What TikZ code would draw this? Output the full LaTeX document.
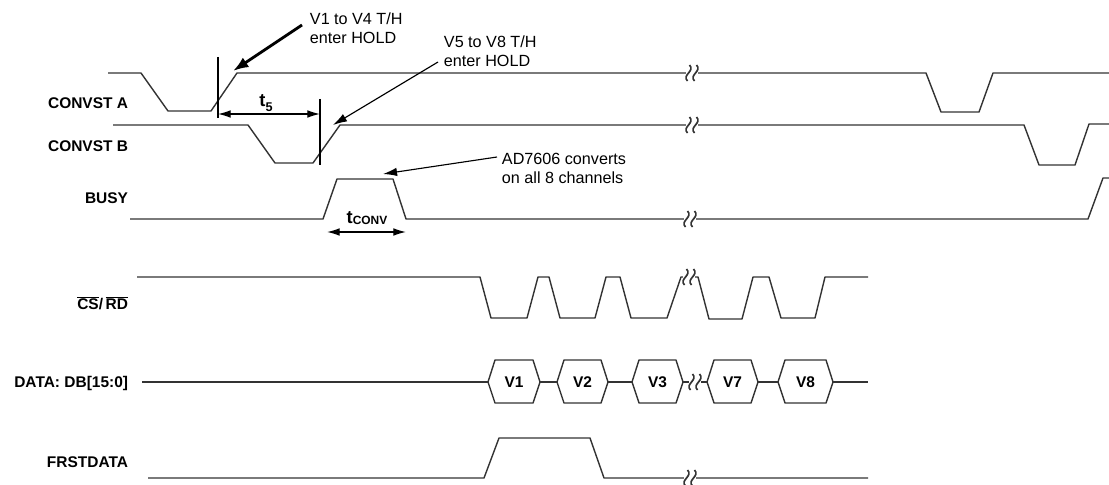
\documentclass[tikz,border=0pt]{standalone}
\usepackage{fontspec}
\setmainfont{Liberation Sans}
\usetikzlibrary{arrows.meta}
\colorlet{sig}{black!80}

% break in a time line: a small gap with two squiggles
\newcommand{\gapmark}[2]{%
  \fill[white] ({#1-6},{#2-3}) rectangle ({#1+6},{#2+3});
  \foreach \dx in {-3.5,3.5}
    {\draw[sig,line width=1.2pt] ({#1+\dx+1},{#2-8}) .. controls ({#1+\dx+7},{#2-2}) and ({#1+\dx-7},{#2+2}) .. ({#1+\dx-1},{#2+8});}}
% one data word on the bus
\newcommand{\dword}[4]{%
  \draw[sig,line width=1pt] (#1,382) -- (#1+7,360) -- (#2-7,360) -- (#2,382) -- (#2-7,403) -- (#1+7,403) -- cycle;
  \node[font=\fontsize{11}{13}\selectfont\bfseries] (#3) at ({(#1+#2)/2},382) {#4};}

\begin{document}
\begin{tikzpicture}[x=0.025cm,y=-0.025cm,line join=round,
  wave/.style={sig,line width=1pt},
  bus/.style={sig,line width=1.9pt},
  lbl/.style={anchor=east,font=\fontsize{11}{13}\selectfont\bfseries},
  note/.style={anchor=north west,align=left,font=\fontsize{11.5}{13.5}\selectfont}]
% 1 unit = 1 px of the 1109 x 485 picture, y downwards
\path[use as bounding box] (0,0) rectangle (1109,485);

% signal names
\foreach \n/\y/\t in {la/103/CONVST A, lb/146/CONVST B, lbusy/198/BUSY, ldata/383/DATA: DB[15:0], lfirst/462/FRSTDATA}
  {\node[lbl] (\n) at (133,\y) {\t};}
\node[lbl] (lcs) at (133,303) {$\overline{\mbox{CS}}$/\,$\overline{\mbox{RD}}$};

% CONVST A, CONVST B, BUSY
\draw[wave] (108,73) -- (141,73) -- (168,111) -- (211,111) -- (237,73) -- (926,73) -- (941,112) -- (979,112) -- (993,73) -- (1109,73);
\draw[wave] (113,125) -- (248,125) -- (275,163) -- (313,163) -- (340,125) -- (1024,125) -- (1039,165) -- (1075,165) -- (1089,124) -- (1109,124);
\draw[wave] (130,219) -- (323,219) -- (337,179) -- (393,179) -- (406,219) -- (1088,219) -- (1103,178) -- (1109,178);
\gapmark{692}{73} \gapmark{692}{125} \gapmark{690}{219}

% CS/RD read pulses
\draw[wave] (137,277) -- (480,277) -- (491,318) -- (527,318) -- (538,277) -- (549,277) -- (560,318) -- (595,318) -- (606,277)
  -- (620,277) -- (631,318) -- (667,318) -- (681,277) -- (698,277) -- (709,319) -- (742,319) -- (753,277)
  -- (769,277) -- (781,318) -- (815,318) -- (825,277) -- (868,277);
\gapmark{689}{277}

% data bus
\draw[wave] (142,382) -- (488,382);
\draw[wave] (833,382) -- (868,382);
\draw[bus] (540,382) -- (557,382);
\draw[bus] (608,382) -- (632,382);
\draw[bus] (683,382) -- (707,382);
\draw[bus] (758,382) -- (778,382);
\dword{488}{540}{v1}{V1} \dword{557}{608}{v2}{V2} \dword{632}{683}{v3}{V3}
\dword{707}{758}{v7}{V7} \dword{778}{833}{v8}{V8}
\gapmark{695}{382}

% FRSTDATA
\draw[wave] (148,478) -- (484,478) -- (499,438) -- (590,438) -- (604,478) -- (868,478);
\gapmark{690}{478}

% hold instants and t5
\coordinate (b1t) at (218,57); \coordinate (b1b) at (218,118);
\coordinate (b2t) at (320,99); \coordinate (b2b) at (320,165);
\draw[black,line width=1.5pt] (b1t) -- (b1b);
\draw[black,line width=1.5pt] (b2t) -- (b2b);
\coordinate (t5a) at (218,114); \coordinate (t5b) at (320,114);
\draw[black,line width=0.9pt,{Latex[length=9pt,width=5.5pt]}-{Latex[length=9pt,width=5.5pt]}] (t5a) -- (t5b);
\node[font=\fontsize{13}{15}\selectfont\bfseries] (t5) at (266,103) {t\raisebox{-3pt}{\fontsize{9}{10}\selectfont 5}};

% conversion time
\coordinate (tca) at (327,232); \coordinate (tcb) at (406,232);
\draw[black,line width=0.9pt,{Latex[length=9pt,width=5.5pt]}-{Latex[length=9pt,width=5.5pt]}] (tca) -- (tcb);
\node[font=\fontsize{13}{15}\selectfont\bfseries] (tconv) at (367,218) {t\raisebox{-1pt}{\fontsize{8.5}{10}\selectfont CONV}};

% notes
\node[note] (hold1) at (305,8) {V1 to V4 T/H\\enter HOLD};
\node[note] (hold2) at (439,31) {V5 to V8 T/H\\enter HOLD};
\node[note] (conv) at (497,148) {AD7606 converts\\on all 8 channels};
\coordinate (h1s) at (302,25); \coordinate (h1e) at (233,71);
\coordinate (h2s) at (438,62); \coordinate (h2e) at (333,125);
\coordinate (cvs) at (497,157); \coordinate (cve) at (383,174);
\draw[black,line width=2pt,-{Latex[length=11pt,width=8pt]}] (h1s) -- (h1e);
\draw[black,line width=0.8pt,-{Latex[length=10pt,width=6pt]}] (h2s) -- (h2e);
\draw[black,line width=0.8pt,-{Latex[length=10pt,width=6pt]}] (cvs) -- (cve);
\end{tikzpicture}
\end{document}
